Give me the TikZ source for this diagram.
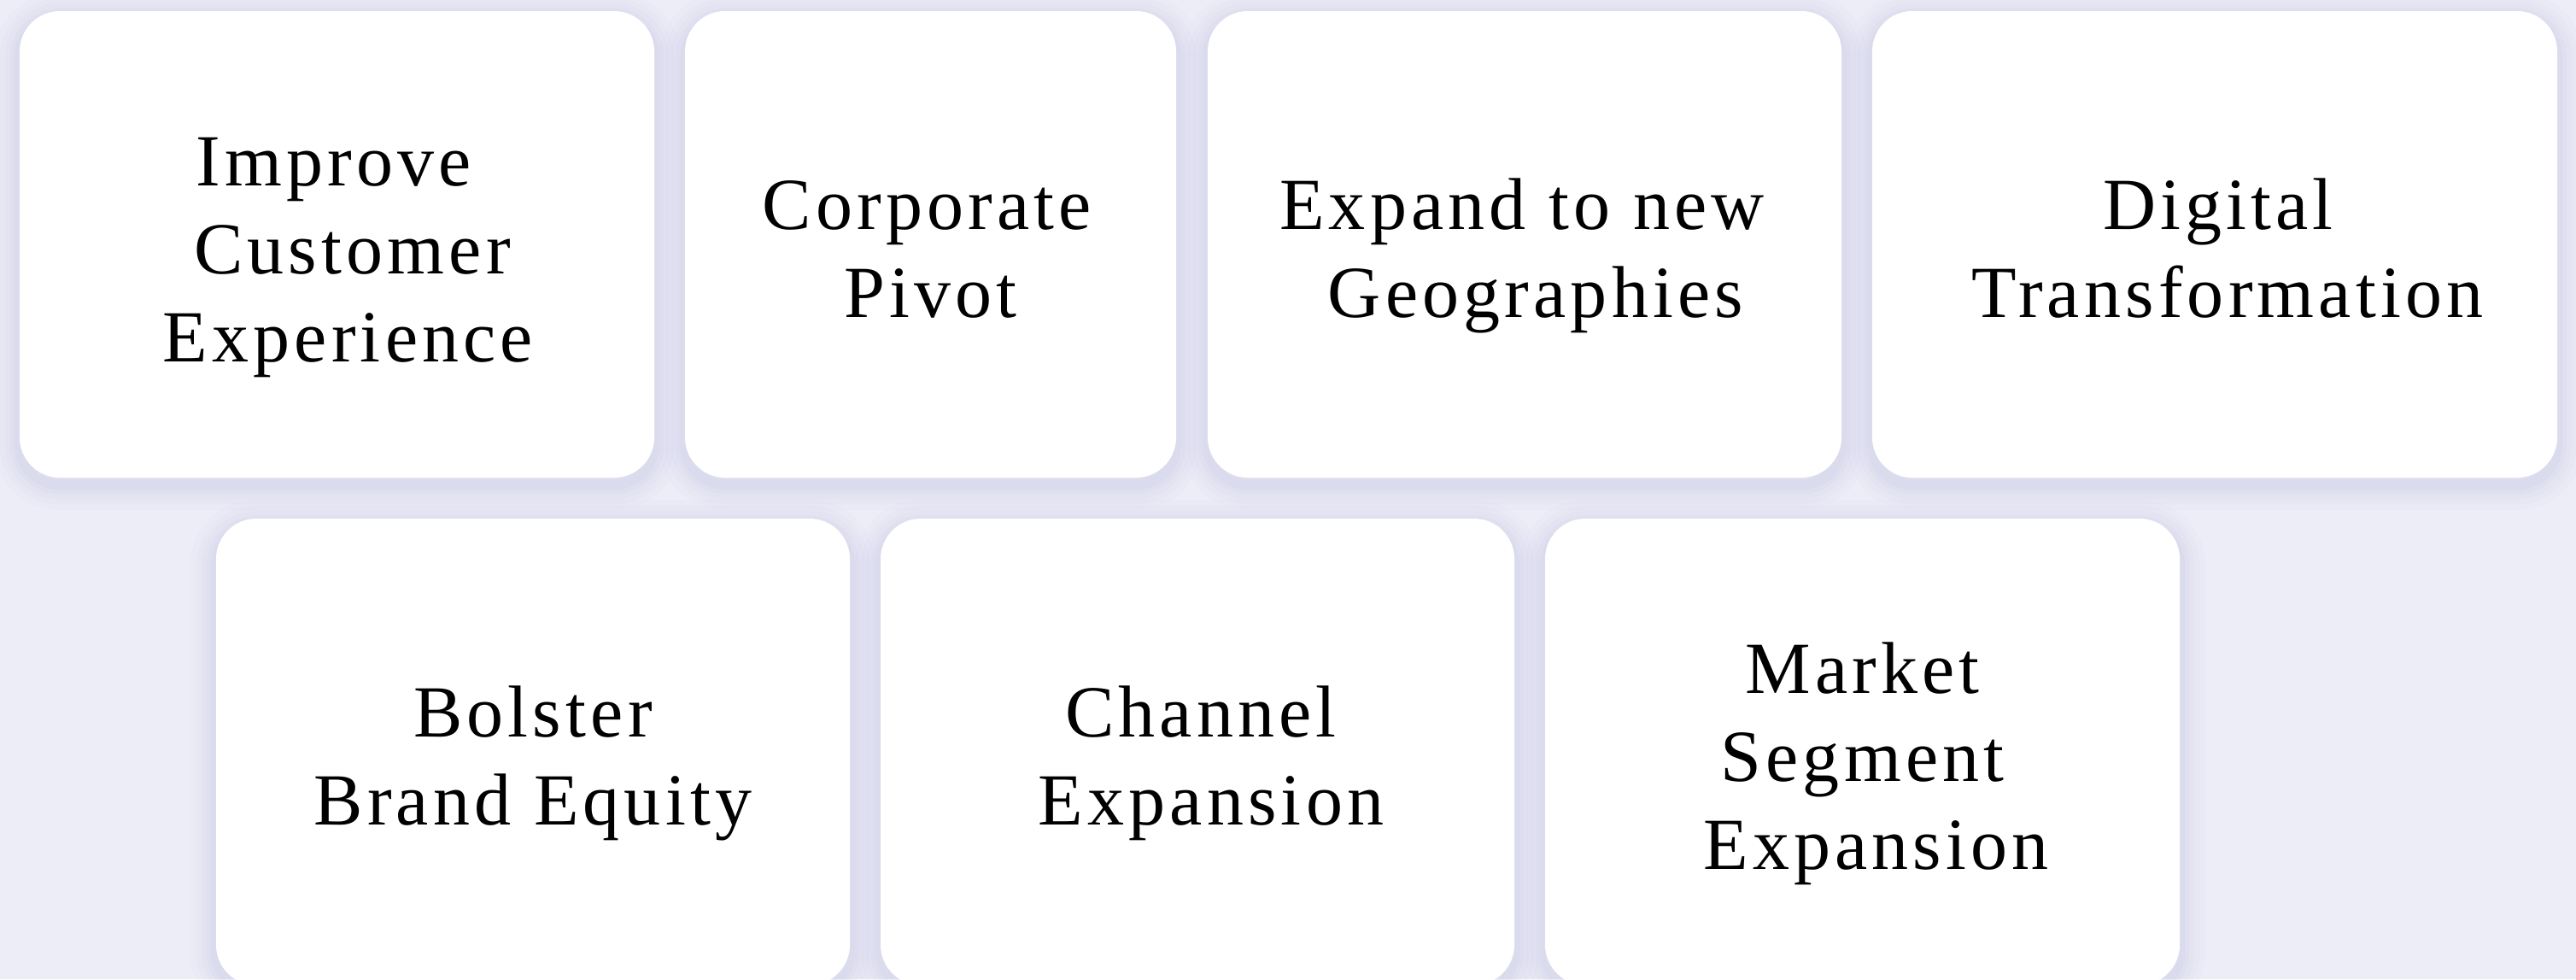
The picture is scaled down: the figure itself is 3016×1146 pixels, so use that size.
\documentclass[tikz,border=0pt]{standalone}
\usepackage{fontspec}
\setmainfont{Liberation Serif}[LetterSpace=6]
\usetikzlibrary{backgrounds}
\definecolor{bgc}{RGB}{237,237,248}
\definecolor{shd}{RGB}{188,188,228}
\newcommand\cardfirst[1]{\rule{0pt}{93pt}#1}
\newcommand\cardlast[1]{#1\rule[-25pt]{0pt}{25pt}}
\newcommand\cardpad[1]{\hspace*{#1pt}}
\tikzset{
  card/.style={fill=white, draw=none, rounded corners=47pt, minimum height=546pt,
    inner sep=0pt, align=center, text=black, font=\fontsize{86}{103}\selectfont},
  shadowline/.style={draw=shd, rounded corners=47pt},
}
\begin{document}
\begin{tikzpicture}[x=1pt,y=-1pt]
\useasboundingbox (0,0) rectangle (3016,1146);
% cards
\node[card, minimum width=743pt] (b1) at (394.5,286)
  {\cardfirst{Improve\cardpad{8}}\\\cardpad{36}Customer\\\cardlast{\cardpad{26}Experience}};
\node[card, minimum width=575pt] (b2) at (1089.5,286)
  {\cardfirst{Corporate\cardpad{8}}\\\cardlast{Pivot}};
\node[card, minimum width=742pt] (b3) at (1785,286)
  {\cardfirst{Expand to new\cardpad{6}}\\\cardlast{\cardpad{26}Geographies}};
\node[card, minimum width=802pt] (b4) at (2593,286)
  {\cardfirst{\cardpad{8}Digital}\\\cardlast{\cardpad{30}Transformation}};
\node[card, minimum width=742pt] (b5) at (624,880)
  {\cardfirst{Bolster}\\\cardlast{Brand Equity}};
\node[card, minimum width=742pt] (b6) at (1402,880)
  {\cardfirst{\cardpad{8}Channel}\\\cardlast{\cardpad{32}Expansion}};
\node[card, minimum width=743pt] (b7) at (2180.5,880)
  {\cardfirst{Market}\\Segment\\\cardlast{\cardpad{32}Expansion}};
\begin{pgfonlayer}{background}
  \fill[bgc] (0,0) rectangle (3016,1146);
  \foreach \n in {b1,b2,b3,b4,b5,b6,b7}{
    \foreach \w/\o in {60/0.05,46/0.06,34/0.07,22/0.08,12/0.09}{
      \draw[shadowline, line width=\w pt, draw opacity=\o]
        ([yshift=-8pt]\n.north west) rectangle ([yshift=-8pt]\n.south east);
    }
  }
\end{pgfonlayer}
\end{tikzpicture}
\end{document}
